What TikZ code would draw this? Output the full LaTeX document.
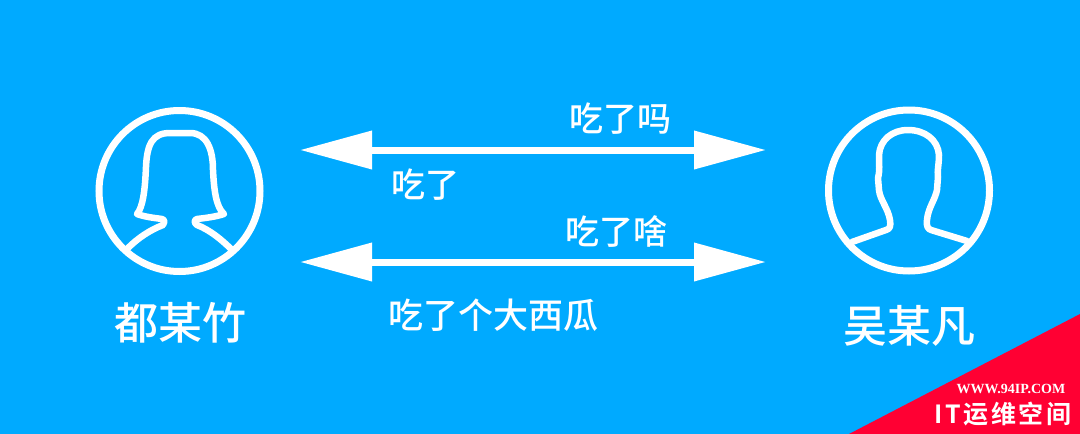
\documentclass[tikz,border=0pt]{standalone}
\usepackage{fontspec}
\usetikzlibrary{arrows.meta}
\newfontfamily\cjk{Noto Sans CJK SC Medium}
\newfontfamily\cjkbold[LetterSpace=10]{Noto Sans CJK SC Bold}
\setmainfont{Liberation Serif}
\definecolor{skyback}{HTML}{00AAFF}
\definecolor{cornerred}{HTML}{FF0033}
\tikzset{
  person/.style={draw=white,circle,line width=7pt,minimum size=161pt,inner sep=0pt},
  figline/.style={draw=white,line width=6.5pt,line join=round,line cap=round},
  talk/.style={draw=white,line width=7pt,{Triangle[length=72pt,width=37pt,fill=white]}-{Triangle[length=72pt,width=37pt,fill=white]}},
  msg/.style={text=white,font=\cjk\fontsize{34}{34}\selectfont,inner sep=0pt},
  who/.style={text=white,font=\cjk\fontsize{44}{44}\selectfont,inner sep=0pt}
}
\begin{document}
\begin{tikzpicture}[x=1pt,y=-1pt]
\useasboundingbox (0,0) rectangle (1080,434);
\fill[skyback] (0,0) rectangle (1080,434);
\fill[cornerred] (1080,314) -- (1080,434) -- (849,434) -- cycle;
% the two people
\node[person] (W0) at (179.5,191) {};
\node[person] (W1) at (909,190.5) {};
\node[who] (N0) at (180,323) {都某竹};
\node[who] (N1) at (909,326) {吴某凡};
\draw[figline] (128,248) .. controls (138,238) and (150,230) .. (163,225) .. controls (165,223) and (165,220) .. (162,219) .. controls (155,218) and (145,217) .. (137,214)
  .. controls (143,207) and (145,190) .. (146,167) .. controls (147,145) and (152,133) .. (170,133) -- (190,133)
  .. controls (207,133) and (213,150) .. (213,170) .. controls (214,190) and (216,207) .. (224,214)
  .. controls (215,217) and (205,218) .. (197,219) .. controls (194,220) and (194,223) .. (197,225) .. controls (210,230) and (222,240) .. (231,249);
\draw[figline] (852,242) -- (886,230) .. controls (890,229) and (891,226) .. (890,220) .. controls (888,208) and (880,200) .. (879,190) -- (878,178)
  .. controls (880,170) and (879,165) .. (879,155) .. controls (880,140) and (892,130) .. (908,130) .. controls (925,130) and (938,140) .. (939,155)
  .. controls (939,165) and (937,170) .. (938,177) -- (937,190) .. controls (935,200) and (928,208) .. (927,220) .. controls (926,226) and (928,229) .. (931,230) -- (967,241);
% the messages
\coordinate (A0) at (300,150);
\coordinate (A1) at (766,150);
\coordinate (B0) at (300,262);
\coordinate (B1) at (766,262);
\draw[talk] (A0) -- (A1);
\draw[talk] (B0) -- (B1);
\node[msg] (M0) at (620,119) {吃了吗};
\node[msg] (M1) at (425,185) {吃了};
\node[msg] (M2) at (616,231) {吃了啥};
\node[msg,font=\cjk\fontsize{35}{35}\selectfont] (M3) at (493,315) {吃了个大西瓜};
% corner mark
\node[text=white,inner sep=0pt,font=\bfseries\fontsize{14}{14}\selectfont] (L0) at (1011,389) {WWW.94IP.COM};
\node[text=white,inner sep=0pt,font=\cjkbold\fontsize{25}{26}\selectfont] (L1) at (1003,414) {IT运维空间};
\end{tikzpicture}
\end{document}
